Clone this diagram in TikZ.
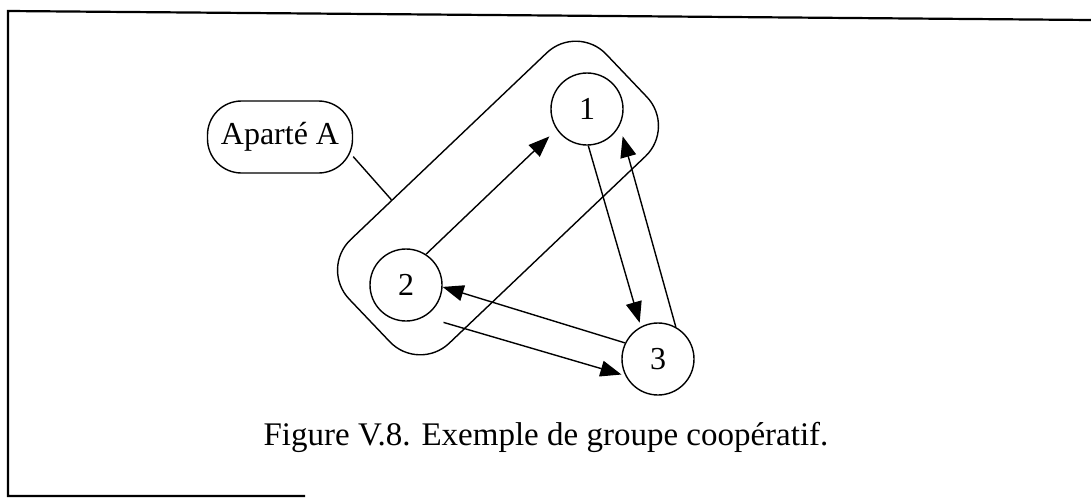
\documentclass[tikz,border=0pt]{standalone}
\usepackage{fontspec}
\setmainfont{Liberation Serif}
\usetikzlibrary{arrows.meta,calc}
\begin{document}
\begin{tikzpicture}[x=0.5pt,y=-0.5pt,
  every node/.style={font=\fontsize{16}{19}\selectfont},
  member/.style={draw,circle,line width=0.7pt,minimum size=36pt,inner sep=0pt},
  tag/.style={draw,line width=0.7pt,rounded corners=17pt,minimum width=72.5pt,minimum height=36pt,inner sep=0pt},
  group/.style={draw,line width=0.7pt,rounded corners=21pt,minimum width=177.5pt,minimum height=71.5pt,inner sep=0pt},
  flow/.style={line width=0.7pt,-{Triangle[length=10.5pt,width=8pt]}},
  frameline/.style={line width=1.1pt}]
\useasboundingbox (0,0) rectangle (1091,498);
% scanned frame
\draw[frameline] (1091,20) -- (8,11) -- (8,496) -- (305,496);
% group outline
\node[group,rotate=43.6] (grp) at (498,198) {};
% members
\node[member] (n1) at (587,109) {1};
\node[member] (n2) at (406,285) {2};
\node[member] (n3) at (658,359) {3};
% label
\node[tag] (apa) at (280,137) {Apart\'e A};
\draw[line width=0.7pt] (apa.-15) -- ($(grp.north)!0.44!(grp.north west)$);
% arrows
\draw[flow,shorten >=5pt] (n2.57) -- (n1.214);
\draw[flow,shorten >=2pt] (n1.-88) -- (n3.118);
\draw[flow,shorten >=5.5pt] (n3.61) -- (n1.-27);
\draw[flow] (n3.154) -- (n2.-3);
\draw[flow,shorten <=10pt,shorten >=2pt] (n2.-60) -- (n3.207);
% caption
\node[font=\fontsize{16.5}{19}\selectfont] (cap) at (546,437) {Figure V.8. Exemple de groupe coop\'eratif.};
\end{tikzpicture}
\end{document}
